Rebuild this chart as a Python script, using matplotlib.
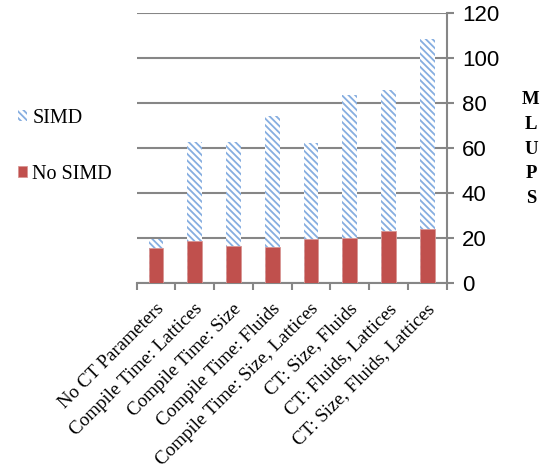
import matplotlib
matplotlib.use("Agg")
import matplotlib.pyplot as plt
import matplotlib.transforms as mtransforms
import numpy as np

categories = [
    "No CT Parameters",
    "Compile Time: Lattices",
    "Compile Time: Size",
    "Compile Time: Fluids",
    "Compile Time: Size, Lattices",
    "CT: Size, Fluids",
    "CT: Fluids, Lattices",
    "CT: Size, Fluids, Lattices",
]
simd = [19.6, 63.0, 62.7, 74.4, 62.2, 83.7, 85.9, 108.4]
no_simd = [15.8, 18.9, 16.8, 16.0, 19.9, 20.2, 23.1, 24.2]
y_ticks = [0, 20, 40, 60, 80, 100, 120]

plt.rcParams["hatch.linewidth"] = 1.3
plt.rcParams["hatch.color"] = "#86AEE0"

fig = plt.figure(figsize=(5.48, 4.76), dpi=100)
ax = fig.add_axes([0.2494, 0.4048, 0.5657, 0.5672])

x = np.arange(len(categories))
w = 0.38
ax.bar(x, simd, width=w, color="white", hatch="\\\\\\\\\\", edgecolor="#86AEE0",
       linewidth=0, zorder=2, label="SIMD")
ax.bar(x, no_simd, width=w, color="#C0504D", edgecolor="#D99694",
       linewidth=0.6, zorder=3, label="No SIMD")

ax.set_xlim(-0.5, len(categories) - 0.5)
ax.set_ylim(0, 120)
ax.yaxis.tick_right()
ax.set_yticks(y_ticks)
ax.set_yticklabels([str(t) for t in y_ticks], fontsize=16,
                   family="Liberation Sans")
ax.yaxis.grid(True, color="#868686", linewidth=1.5, zorder=0)
ax.set_axisbelow(True)

for side in ("left", "top"):
    ax.spines[side].set_visible(False)
for side in ("right", "bottom"):
    ax.spines[side].set_color("#868686")
    ax.spines[side].set_linewidth(1.5)

ax.tick_params(axis="y", which="major", direction="out", length=5,
               width=1.5, color="#868686", pad=6)

# category boundaries as minor ticks on the x axis
ax.set_xticks(np.arange(-0.5, len(categories), 1.0), minor=True)
ax.set_xticks(x)
ax.tick_params(axis="x", which="minor", direction="out", length=5,
               width=1.5, color="#868686")
ax.tick_params(axis="x", which="major", length=0, pad=5)
ax.set_xticklabels(categories, rotation=45, ha="right",
                   rotation_mode="anchor", fontsize=13.7,
                   family="Liberation Serif")
shift = mtransforms.ScaledTranslation(-1 / 100, -10 / 100, fig.dpi_scale_trans)
for lbl in ax.get_xticklabels():
    lbl.set_transform(lbl.get_transform() + shift)

# vertical axis title, one letter per line
for i, ch in enumerate("MLUPS"):
    fig.text(531 / 548, 1 - (100 + i * 24.5) / 476, ch, fontsize=13.5,
             fontweight="bold", family="Liberation Serif",
             ha="center", va="center")

handles, labels = ax.get_legend_handles_labels()
leg = fig.legend(handles, labels, loc="upper left",
                 bbox_to_anchor=(0.0, 0.81), frameon=False,
                 prop={"family": "Liberation Serif", "size": 14.5},
                 handlelength=0.45, handleheight=0.45, handletextpad=0.25,
                 labelspacing=1.85)

fig.savefig("out.png", dpi=100)
